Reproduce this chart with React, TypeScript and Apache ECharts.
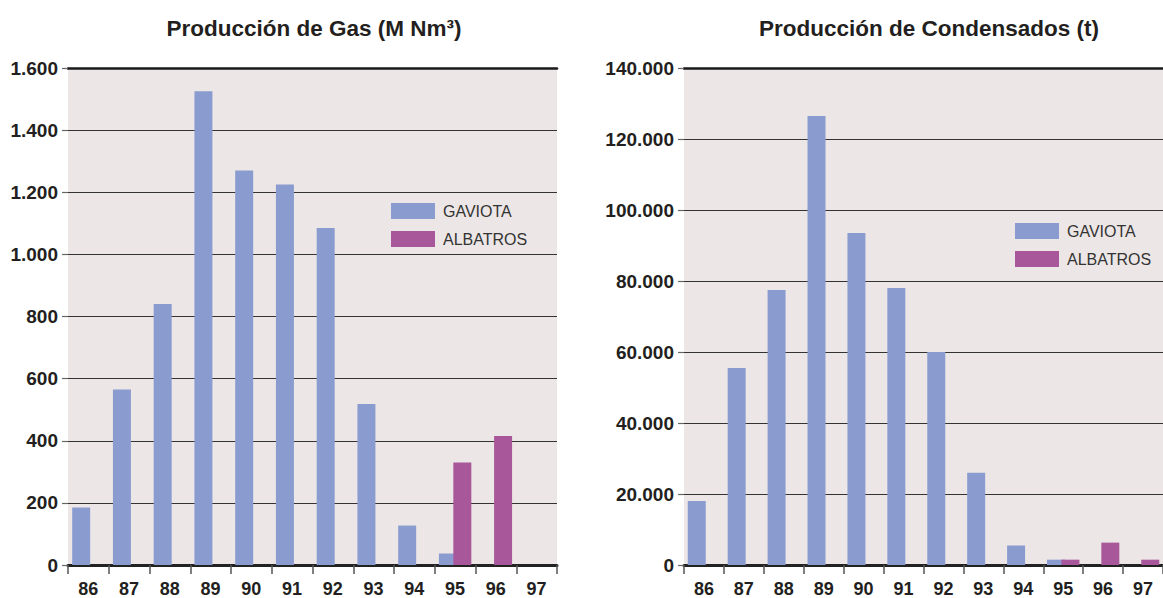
import React, { useEffect, useRef } from "react";
import * as echarts from "echarts";

const years = ["86", "87", "88", "89", "90", "91", "92", "93", "94", "95", "96", "97"];
const gasGaviota = [185, 565, 840, 1525, 1270, 1225, 1085, 518, 127, 37, null, null];
const gasAlbatros = [null, null, null, null, null, null, null, null, null, 330, 415, null];
const condGaviota = [18000, 55500, 77500, 126500, 93500, 78000, 60000, 26000, 5500, 1500, null, null];
const condAlbatros = [null, null, null, null, null, null, null, null, null, 1500, 6300, 1500];
const titles = ["Producción de Gas (M Nm³)", "Producción de Condensados (t)"];
const seriesNames = ["GAVIOTA", "ALBATROS"];

const C_GAV = "#8A9CCF";
const C_ALB = "#A9579B";
const BG = "#ECE7E6";
const TXT = "#231F20";
const FONT = "'Liberation Sans', Arial, sans-serif";

const fmt = (v: number) => String(v).replace(/\B(?=(\d{3})+(?!\d))/g, ".");

export default function App() {
  const ref = useRef<HTMLDivElement>(null);
  useEffect(() => {
    if (!ref.current) return;
    const chart = echarts.init(ref.current, undefined, { renderer: "svg" });
    const grids = [
      { left: 68, right: 606, top: 68, bottom: 32 },
      { left: 684, right: -12, top: 68, bottom: 32 },
    ];
    const maxes = [1600, 140000];
    const intervals = [200, 20000];
    const xAxes: any[] = [];
    const yAxes: any[] = [];
    grids.forEach((g, i) => {
      xAxes.push({
        type: "category",
        gridIndex: i,
        data: years,
        position: "bottom",
        axisLine: { show: true, lineStyle: { color: "#222", width: 3 } },
        axisTick: { show: true, length: 9, lineStyle: { color: "#555", width: 1.5 } },
        axisLabel: { color: TXT, fontFamily: FONT, fontWeight: "bold", fontSize: 18, margin: 15 },
        splitLine: { show: false },
      });
      xAxes.push({
        type: "category",
        gridIndex: i,
        data: years,
        position: "top",
        axisLine: { show: true, lineStyle: { color: "#1a1a1a", width: 2.5 } },
        axisTick: { show: false },
        axisLabel: { show: false },
      });
      yAxes.push({
        type: "value",
        gridIndex: i,
        min: 0,
        max: maxes[i],
        interval: intervals[i],
        axisLine: { show: false },
        axisTick: { show: true, length: 6, lineStyle: { color: "#666", width: 1.2 } },
        axisLabel: {
          color: TXT,
          fontFamily: FONT,
          fontWeight: "bold",
          fontSize: 19,
          margin: 10,
          formatter: (v: number) => fmt(v),
        },
        splitLine: { show: true, lineStyle: { color: "#333", width: 1 } },
      });
    });
    const data = [
      [gasGaviota, gasAlbatros],
      [condGaviota, condAlbatros],
    ];
    const series: any[] = [];
    data.forEach((pair, i) => {
      pair.forEach((vals, j) => {
        series.push({
          type: "bar",
          name: seriesNames[j],
          xAxisIndex: i * 2,
          yAxisIndex: i,
          data: vals,
          barWidth: 18,
          barGap: "-20%",
          itemStyle: { color: j === 0 ? C_GAV : C_ALB },
        });
      });
    });
    const legendPos = [
      { left: 391, top: 203 },
      { left: 1015, top: 223 },
    ];
    chart.setOption({
      animation: false,
      backgroundColor: "#fff",
      title: titles.map((t, i) => ({
        text: t,
        left: i === 0 ? 309 : 924,
        top: 12,
        textAlign: "center",
        textStyle: { color: TXT, fontFamily: FONT, fontWeight: "bold", fontSize: 22.5 },
      })),
      legend: legendPos.map((p) => ({
        orient: "vertical",
        left: p.left,
        top: p.top,
        padding: 0,
        itemWidth: 44,
        itemHeight: 16,
        itemGap: 12,
        icon: "rect",
        data: seriesNames,
        selectedMode: false,
        textStyle: { color: "#333", fontFamily: FONT, fontSize: 16, padding: [0, 0, 0, 3] },
      })),
      grid: grids.map((g) => ({ ...g, show: true, backgroundColor: BG, borderWidth: 0, containLabel: false })),
      xAxis: xAxes,
      yAxis: yAxes,
      series,
    });
    return () => chart.dispose();
  }, []);
  return (
    <div
      ref={ref}
      style={{ position: "absolute", left: 0, top: 0, width: 1163, height: 598, overflow: "hidden" }}
    />
  );
}
